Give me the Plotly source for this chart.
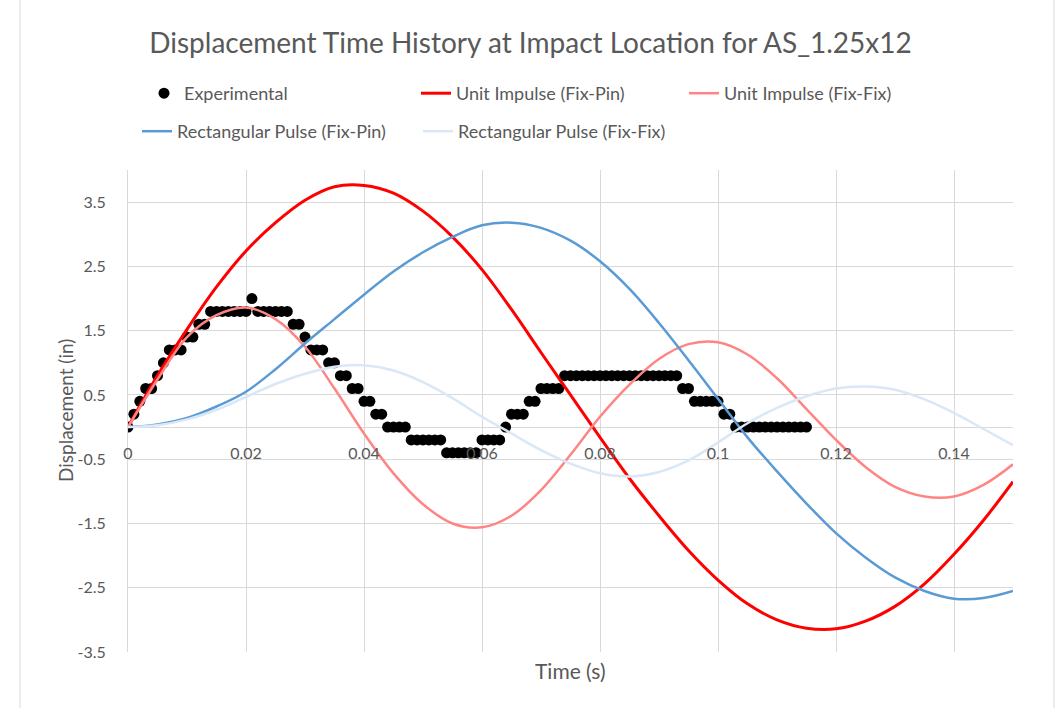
import plotly.graph_objects as go

# ---------------- data ----------------
exp_time = [0.000, 0.001, 0.002, 0.003, 0.004, 0.005, 0.006, 0.007, 0.008, 0.009,
            0.010, 0.011, 0.012, 0.013, 0.014, 0.015, 0.016, 0.017, 0.018, 0.019,
            0.020, 0.021, 0.022, 0.023, 0.024, 0.025, 0.026, 0.027, 0.028, 0.029,
            0.030, 0.031, 0.032, 0.033, 0.034, 0.035, 0.036, 0.037, 0.038, 0.039,
            0.040, 0.041, 0.042, 0.043, 0.044, 0.045, 0.046, 0.047, 0.048, 0.049,
            0.050, 0.051, 0.052, 0.053, 0.054, 0.055, 0.056, 0.057, 0.058, 0.059,
            0.060, 0.061, 0.062, 0.063, 0.064, 0.065, 0.066, 0.067, 0.068, 0.069,
            0.070, 0.071, 0.072, 0.073, 0.074, 0.075, 0.076, 0.077, 0.078, 0.079,
            0.080, 0.081, 0.082, 0.083, 0.084, 0.085, 0.086, 0.087, 0.088, 0.089,
            0.090, 0.091, 0.092, 0.093, 0.094, 0.095, 0.096, 0.097, 0.098, 0.099,
            0.100, 0.101, 0.102, 0.103, 0.104, 0.105, 0.106, 0.107, 0.108, 0.109,
            0.110, 0.111, 0.112, 0.113, 0.114, 0.115]
exp_disp = [0.0, 0.2, 0.4, 0.6, 0.6, 0.8, 1.0, 1.2, 1.2, 1.2,
            1.4, 1.4, 1.6, 1.6, 1.8, 1.8, 1.8, 1.8, 1.8, 1.8,
            1.8, 2.0, 1.8, 1.8, 1.8, 1.8, 1.8, 1.8, 1.6, 1.6,
            1.4, 1.2, 1.2, 1.2, 1.0, 1.0, 0.8, 0.8, 0.6, 0.6,
            0.4, 0.4, 0.2, 0.2, 0.0, 0.0, 0.0, 0.0, -0.2, -0.2,
            -0.2, -0.2, -0.2, -0.2, -0.4, -0.4, -0.4, -0.4, -0.4, -0.4,
            -0.2, -0.2, -0.2, -0.2, 0.0, 0.2, 0.2, 0.2, 0.4, 0.4,
            0.6, 0.6, 0.6, 0.6, 0.8, 0.8, 0.8, 0.8, 0.8, 0.8,
            0.8, 0.8, 0.8, 0.8, 0.8, 0.8, 0.8, 0.8, 0.8, 0.8,
            0.8, 0.8, 0.8, 0.8, 0.6, 0.6, 0.4, 0.4, 0.4, 0.4,
            0.4, 0.2, 0.2, 0.0, 0.0, 0.0, 0.0, 0.0, 0.0, 0.0,
            0.0, 0.0, 0.0, 0.0, 0.0, 0.0]

model_time = [0.000, 0.005, 0.010, 0.015, 0.020, 0.025, 0.030, 0.035, 0.040, 0.045,
              0.050, 0.055, 0.060, 0.065, 0.070, 0.075, 0.080, 0.085, 0.090, 0.095,
              0.100, 0.105, 0.110, 0.115, 0.120, 0.125, 0.130, 0.135, 0.140, 0.145,
              0.150]
impulse_fix_pin = [0.00, 0.80, 1.52, 2.18, 2.74, 3.18, 3.53, 3.74, 3.76, 3.64,
                   3.36, 2.96, 2.45, 1.83, 1.16, 0.50, -0.16, -0.80, -1.38, -1.92,
                   -2.38, -2.75, -3.00, -3.13, -3.14, -3.02, -2.79, -2.44, -1.98, -1.45,
                   -0.85]
impulse_fix_fix = [0.00, 0.74, 1.40, 1.74, 1.86, 1.68, 1.25, 0.60, -0.10, -0.72,
                   -1.20, -1.50, -1.56, -1.38, -0.98, -0.43, 0.16, 0.66, 1.06, 1.29,
                   1.32, 1.13, 0.76, 0.28, -0.20, -0.62, -0.93, -1.08, -1.08, -0.90,
                   -0.58]
rect_fix_pin = [0.00, 0.04, 0.14, 0.32, 0.55, 0.90, 1.30, 1.68, 2.06, 2.42,
                2.72, 2.96, 3.14, 3.18, 3.10, 2.90, 2.58, 2.15, 1.62, 1.04,
                0.44, -0.16, -0.69, -1.19, -1.65, -2.03, -2.34, -2.55, -2.67, -2.66,
                -2.55]
rect_fix_fix = [0.00, 0.03, 0.12, 0.27, 0.47, 0.67, 0.83, 0.94, 0.96, 0.88,
                0.70, 0.45, 0.16, -0.10, -0.36, -0.57, -0.72, -0.77, -0.70, -0.52,
                -0.24, 0.06, 0.30, 0.48, 0.60, 0.63, 0.58, 0.43, 0.22, -0.03,
                -0.28]

x_ticks = [0, 0.02, 0.04, 0.06, 0.08, 0.10, 0.12, 0.14]
x_tick_labels = ["0", "0.02", "0.04", "0.06", "0.08", "0.1", "0.12", "0.14"]
y_ticks = [-3.5, -2.5, -1.5, -0.5, 0.5, 1.5, 2.5, 3.5]
y_tick_labels = ["-3.5", "-2.5", "-1.5", "-0.5", "0.5", "1.5", "2.5", "3.5"]

# ---------------- styling ----------------
FONT = "Lato"
TXT = "#595959"
GRID = "#d9d9d9"
W, H = 1061, 708
ML, MR, MT, MB = 128, 48, 170, 56
PW, PH = W - ML - MR, H - MT - MB


def px_x(px):
    return (px - ML) / PW


def px_y(py):
    return (H - MB - py) / PH


fig = go.Figure()
fig.add_trace(go.Scatter(x=exp_time, y=exp_disp, mode="markers", name="Experimental",
                         marker=dict(color="black", size=11, symbol="circle"),
                         legend="legend", legendwidth=227))
fig.add_trace(go.Scatter(x=model_time, y=impulse_fix_pin, mode="lines",
                         name="Unit Impulse (Fix-Pin)",
                         line=dict(color="#ff0000", width=3, shape="spline", smoothing=1),
                         legend="legend", legendwidth=223))
fig.add_trace(go.Scatter(x=model_time, y=impulse_fix_fix, mode="lines",
                         name="Unit Impulse (Fix-Fix)",
                         line=dict(color="#ff8585", width=2.5, shape="spline", smoothing=1),
                         legend="legend", legendwidth=190))
fig.add_trace(go.Scatter(x=model_time, y=rect_fix_pin, mode="lines",
                         name="Rectangular Pulse (Fix-Pin)",
                         line=dict(color="#5b9bd5", width=2.5, shape="spline", smoothing=1),
                         legend="legend2", legendwidth=236))
fig.add_trace(go.Scatter(x=model_time, y=rect_fix_fix, mode="lines",
                         name="Rectangular Pulse (Fix-Fix)",
                         line=dict(color="#d9e7f6", width=2.5, shape="spline", smoothing=1),
                         legend="legend2", legendwidth=230))

legend_common = dict(orientation="h", xanchor="left", yanchor="top",
                     font=dict(family=FONT, size=18, color=TXT),
                     bgcolor="rgba(0,0,0,0)", borderwidth=0, itemwidth=30,
                     traceorder="normal")

fig.update_layout(
    width=W, height=H,
    margin=dict(l=ML, r=MR, t=MT, b=MB, autoexpand=False),
    paper_bgcolor="white", plot_bgcolor="white",
    font=dict(family=FONT, color=TXT),
    title=dict(text="Displacement Time History at Impact Location for AS_1.25x12",
               x=0.5, xref="container", xanchor="center",
               y=1 - 43 / H, yref="container", yanchor="middle",
               font=dict(family=FONT, size=28, color=TXT)),
    legend=dict(x=px_x(144), y=px_y(75), **legend_common),
    legend2=dict(x=px_x(137), y=px_y(113), **legend_common),
    xaxis=dict(range=[0, 0.15], tickvals=x_ticks, ticktext=x_tick_labels,
               showgrid=True, gridcolor=GRID, gridwidth=1, zeroline=False,
               showline=False, ticks="", anchor="free", position=3.5 / 7.5,
               ticklabelstandoff=15,
               tickfont=dict(family=FONT, size=16, color=TXT)),
    yaxis=dict(range=[-3.5, 4.0], tickvals=y_ticks, ticktext=y_tick_labels,
               showgrid=True, gridcolor=GRID, gridwidth=1,
               zeroline=True, zerolinecolor=GRID, zerolinewidth=1,
               showline=True, linecolor=GRID, linewidth=1, ticks="",
               ticklabelstandoff=18,
               tickfont=dict(family=FONT, size=16, color=TXT)),
    annotations=[
        dict(text="Time (s)", xref="paper", yref="paper", x=0.5, y=px_y(670),
             xanchor="center", yanchor="middle", showarrow=False,
             font=dict(family=FONT, size=21, color=TXT)),
        dict(text="Displacement (in)", xref="paper", yref="paper", x=px_x(65), y=0.5,
             xanchor="center", yanchor="middle", textangle=-90, showarrow=False,
             font=dict(family=FONT, size=19, color=TXT)),
    ],
    shapes=[
        dict(type="rect", xref="paper", yref="paper",
             x0=px_x(20), x1=px_x(1054), y0=px_y(720), y1=px_y(-12),
             line=dict(color=GRID, width=1), fillcolor="rgba(0,0,0,0)", layer="below"),
    ],
    showlegend=True,
)

fig.write_html("out.html")
